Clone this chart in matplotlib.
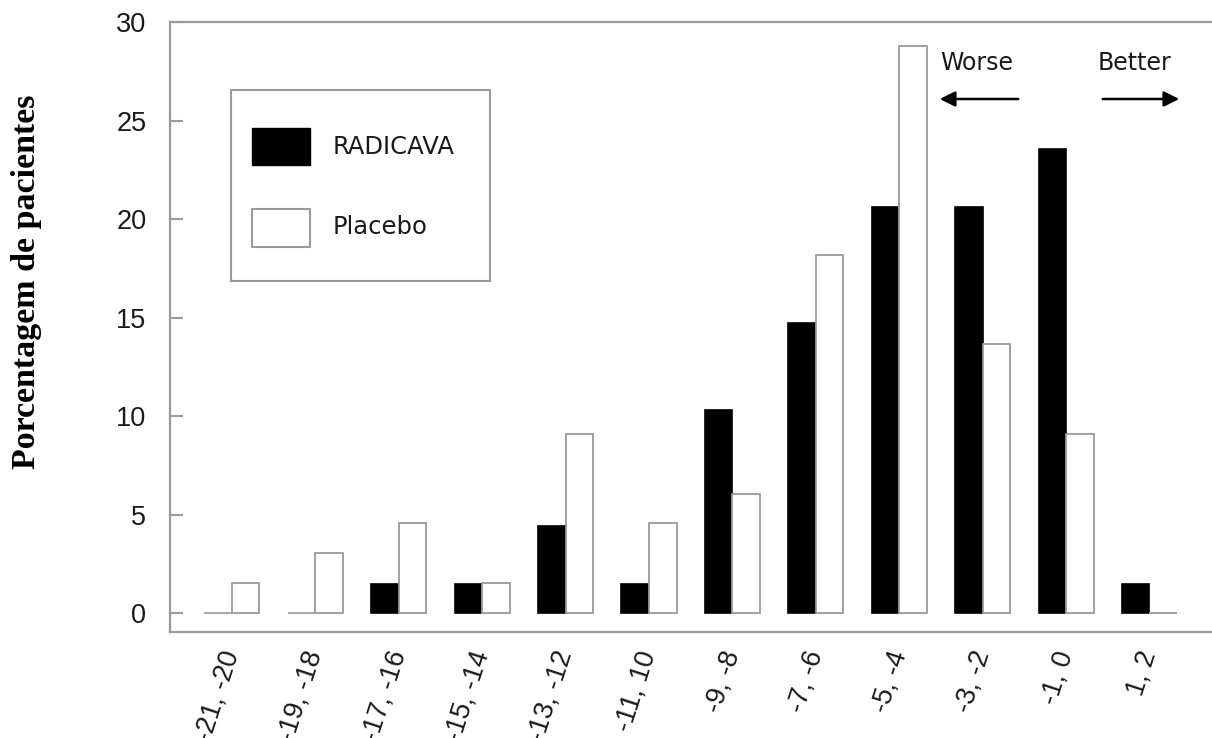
import matplotlib
matplotlib.use("Agg")
import matplotlib.pyplot as plt
from matplotlib.patches import Rectangle
import numpy as np

# change in score bins (x categories)
bins = ["-21, -20", "-19, -18", "-17, -16", "-15, -14", "-13, -12", "-11, 10",
        "-9, -8", "-7, -6", "-5, -4", "-3, -2", "-1, 0", "1, 2"]
# percentage of patients
radicava = [0.0, 0.0, 1.47, 1.47, 4.41, 1.47, 10.29, 14.71, 20.59, 20.59, 23.53, 1.47]
placebo = [1.52, 3.03, 4.55, 1.52, 9.09, 4.55, 6.06, 18.18, 28.79, 13.64, 9.09, 0.0]

gray = "#9a9a9a"
txt = "#1a1a1a"
W, H = 1212, 738

fig = plt.figure(figsize=(W / 100, H / 100), dpi=100)
ax = fig.add_axes([170 / W, (H - 632) / H, (W - 170) / W, 610 / H])

x = np.arange(len(bins))
bw = 0.33
edge_black = [gray if v == 0 else "black" for v in radicava]
ax.bar(x - bw / 2, radicava, bw, color="black", edgecolor=edge_black, linewidth=1.2)
ax.bar(x + bw / 2, placebo, bw, color="white", edgecolor=gray, linewidth=1.3)

ax.set_xlim(-0.743, 11.75)
ax.set_ylim(-0.96, 30)

for s in ["left", "bottom", "top"]:
    ax.spines[s].set_color(gray)
    ax.spines[s].set_linewidth(1.6)
ax.spines["right"].set_visible(False)

ax.set_yticks(range(0, 31, 5))
ax.tick_params(axis="y", direction="in", length=9.5, width=1.5, color=gray,
               pad=17, labelsize=19.5, labelcolor=txt)
ax.set_xticks(x)
ax.set_xticklabels(bins, rotation=72, ha="right", va="center", rotation_mode="anchor")
ax.tick_params(axis="x", length=0, pad=14, labelsize=19.5, labelcolor=txt)
for lbl in ax.get_xticklabels() + ax.get_yticklabels():
    lbl.set_family("Liberation Sans")

fig.text(27 / W, 1 - 282 / H, "Porcentagem de pacientes", rotation=90,
         ha="center", va="center", family="Liberation Serif", weight="bold", fontsize=24.5)

# legend box drawn by hand (axes fraction)
def fx(px):
    return (px - 170) / 1042

def fy(py):
    return (632 - py) / 610

t = ax.transAxes
ax.add_patch(Rectangle((fx(231), fy(281)), fx(490) - fx(231), fy(90) - fy(281),
                       transform=t, facecolor="white", edgecolor=gray, lw=1.5, zorder=5))
ax.add_patch(Rectangle((fx(252), fy(165)), fx(310) - fx(252), fy(128) - fy(165),
                       transform=t, facecolor="black", edgecolor="black", lw=1, zorder=6))
ax.add_patch(Rectangle((fx(252), fy(247)), fx(310) - fx(252), fy(209) - fy(247),
                       transform=t, facecolor="white", edgecolor=gray, lw=1.5, zorder=6))
ax.text(fx(333), fy(147), "RADICAVA", transform=t, va="center", ha="left",
        fontsize=17.5, family="DejaVu Sans", color=txt, zorder=7)
ax.text(fx(333), fy(227), "Placebo", transform=t, va="center", ha="left",
        fontsize=17.5, family="DejaVu Sans", color=txt, zorder=7)

# worse / better arrows
ax.annotate("", xy=(fx(937), fy(99)), xytext=(fx(1021), fy(99)), xycoords=t,
            arrowprops=dict(arrowstyle="-|>", color="black", lw=1.8, mutation_scale=23))
ax.annotate("", xy=(fx(1182), fy(99)), xytext=(fx(1100), fy(99)), xycoords=t,
            arrowprops=dict(arrowstyle="-|>", color="black", lw=1.8, mutation_scale=23))
ax.text(fx(977), fy(63), "Worse", transform=t, ha="center", va="center",
        fontsize=17, family="DejaVu Sans", color=txt)
ax.text(fx(1134), fy(63), "Better", transform=t, ha="center", va="center",
        fontsize=17, family="DejaVu Sans", color=txt)

fig.savefig("out.png", dpi=100)
